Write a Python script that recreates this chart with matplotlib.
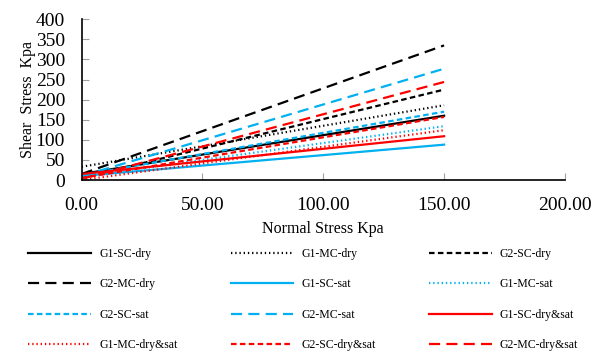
import matplotlib.pyplot as plt

plt.rcParams['font.family'] = ['Liberation Serif', 'DejaVu Serif']

# normal stress range of the trend lines (kPa)
normal_stress = [0, 150]

series = ['G1-SC-dry', 'G1-MC-dry', 'G2-SC-dry', 'G2-MC-dry',
          'G1-SC-sat', 'G1-MC-sat', 'G2-SC-sat', 'G2-MC-sat',
          'G1-SC-dry&sat', 'G1-MC-dry&sat', 'G2-SC-dry&sat', 'G2-MC-dry&sat']
# shear stress at normal stress 0 and 150 kPa
shear_at_0 = [15, 33, 5, 15, 10, 8, 12, 10, 15, 0, 5, 3]
shear_at_150 = [160, 186, 225, 335, 88, 134, 170, 277, 109, 124, 157, 244]

colors = ['black'] * 4 + ['#00b0f0'] * 4 + ['red'] * 4
styles = ['solid', (0, (0.6, 1.3)), (0, (2.5, 1.5)), (0, (5, 2.8))] * 3

fig = plt.figure(figsize=(5.94, 3.52), dpi=100)
ax = fig.add_axes([0.1375, 0.4886, 0.8135, 0.4566])

for name, y0, y1, c, ls in zip(series, shear_at_0, shear_at_150, colors, styles):
    ax.plot(normal_stress, [y0, y1], color=c, linestyle=ls, lw=1.6, label=name)

ax.set_xlim(0, 200)
ax.set_ylim(0, 400)
ax.set_xticks([0, 50, 100, 150, 200])
ax.set_xticklabels([f'{v:.2f}' for v in [0, 50, 100, 150, 200]])
ax.set_yticks(range(0, 401, 50))
for s in ['top', 'right']:
    ax.spines[s].set_visible(False)
for s in ['left', 'bottom']:
    ax.spines[s].set_linewidth(1.2)
ax.tick_params(axis='both', direction='in', length=5, color='#a0a0a0',
               labelsize=14, width=0.8)
ax.tick_params(axis='x', pad=12)
ax.tick_params(axis='y', pad=12)
ax.set_xlabel('Normal Stress Kpa', fontsize=11.5, labelpad=5)
ax.set_ylabel('Shear  Stress  Kpa', fontsize=11.5, labelpad=0)

# legend fills row by row like the original
handles, labels = ax.get_legend_handles_labels()
order = [i + 3 * r for i in range(3) for r in range(4)]
fig.legend([handles[i] for i in order], [labels[i] for i in order],
           loc='upper left', bbox_to_anchor=(0.03, 0.3255),
           ncol=3, frameon=False, fontsize=8.5, handlelength=5.3,
           columnspacing=4.5, labelspacing=1.55, handletextpad=0.7)

fig.savefig('out.png', dpi=100)
